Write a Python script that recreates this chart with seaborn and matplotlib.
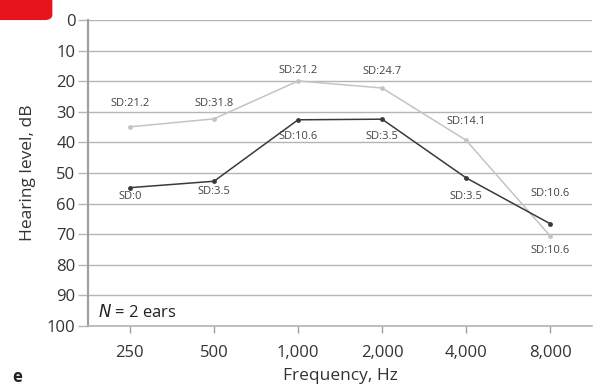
import pandas as pd
import matplotlib
matplotlib.use("Agg")
import matplotlib.pyplot as plt
import seaborn as sns
from matplotlib.patches import FancyBboxPatch

# data
frequencies = ["250", "500", "1,000", "2,000", "4,000", "8,000"]
light_level = [34.9, 32.3, 19.9, 22.2, 39.3, 70.6]
dark_level = [54.8, 52.7, 32.6, 32.4, 51.6, 66.6]
light_sd = ["SD:21.2", "SD:31.8", "SD:21.2", "SD:24.7", "SD:14.1", "SD:10.6"]
dark_sd = ["SD:0", "SD:3.5", "SD:10.6", "SD:3.5", "SD:3.5", "SD:10.6"]
# label offsets from each point, in pixels (positive = up)
light_dy = [23, 15, 10, 16, 19, -15]
dark_dy = [-9, -10, -17, -17, -19, 30]

sns.set_style("white")
plt.rcParams['font.family'] = ['Open Sans', 'DejaVu Sans']

df = pd.DataFrame({
    "freq": frequencies * 2,
    "level": light_level + dark_level,
    "series": ["light"] * 6 + ["dark"] * 6,
})

fig = plt.figure(figsize=(5.94, 3.87), dpi=100)
ax = fig.add_axes([0.148, 0.158, 0.849, 0.79])

palette = {"light": "#c4c4c4", "dark": "#3a3a3a"}
sns.lineplot(data=df, x="freq", y="level", hue="series", palette=palette,
             marker="o", markersize=3.5, markeredgewidth=0, linewidth=1.1,
             legend=False, ax=ax, sort=False)

for i, (v, t) in enumerate(zip(light_level, light_sd)):
    ax.annotate(t, (i, v), xytext=(0, light_dy[i]), textcoords="offset pixels",
                ha="center", va="center", fontsize=8, color="#444444")
for i, (v, t) in enumerate(zip(dark_level, dark_sd)):
    ax.annotate(t, (i, v), xytext=(0, dark_dy[i]), textcoords="offset pixels",
                ha="center", va="center", fontsize=8, color="#444444")

ax.set_ylim(100, 0)
ax.set_xlim(-0.5, 5.5)
ax.set_yticks(range(0, 101, 10))
ax.yaxis.grid(True, color="#b5b5b5", linewidth=1.0)
ax.set_axisbelow(True)
for s in ["top", "right"]:
    ax.spines[s].set_visible(False)
ax.spines["left"].set_color("#a0a0a0")
ax.spines["left"].set_linewidth(1.6)
ax.spines["bottom"].set_color("#b5b5b5")
ax.spines["bottom"].set_linewidth(1.2)
ax.tick_params(axis="y", length=7, width=1, color="#b5b5b5", labelsize=12,
               labelcolor="#333333", pad=2, left=True)
ax.tick_params(axis="x", length=5, width=1, color="#a0a0a0", labelsize=12,
               labelcolor="#333333", pad=9, bottom=True, direction="out")
ax.set_xlabel("Frequency, Hz", fontsize=12.5, color="#333333", labelpad=5)
ax.set_ylabel("Hearing level, dB", fontsize=12.5, color="#333333", labelpad=8)

ax.text(0.02, 0.045, r"$\it{N}$ = 2 ears", transform=ax.transAxes,
        fontsize=12, color="#222222", va="center")
fig.text(0.02, 0.025, "e", fontsize=12, fontweight="bold", color="#222222",
         va="center")

# red tab in the corner
fig.patches.append(FancyBboxPatch((-0.02, 0.95), 0.107, 0.07,
                                  boxstyle="round,pad=0,rounding_size=0.012",
                                  transform=fig.transFigure, color="#e8141b",
                                  clip_on=False))

fig.savefig("out.png", dpi=100)
